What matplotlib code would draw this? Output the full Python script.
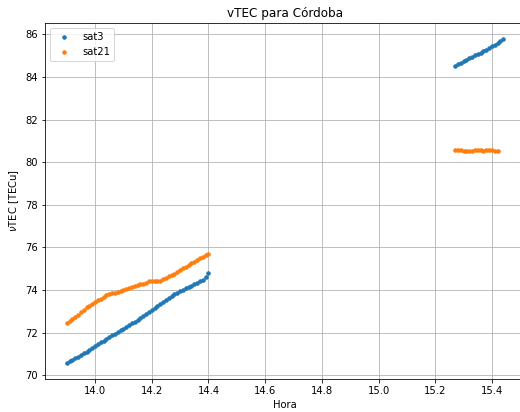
import matplotlib
matplotlib.use('Agg')
import matplotlib.pyplot as plt
import numpy as np

# hora (UT) y vTEC por satelite, dos pasadas cada uno
hora_sat3_a = np.round(np.arange(13.90, 14.405, 0.01), 2)
vtec_sat3_a = [70.58, 70.65, 70.72, 70.79, 70.87, 70.94, 71.02, 71.10, 71.19, 71.28,
               71.37, 71.45, 71.54, 71.62, 71.71, 71.79, 71.87, 71.95, 72.03, 72.11,
               72.19, 72.27, 72.35, 72.43, 72.51, 72.59, 72.68, 72.77, 72.86, 72.96,
               73.05, 73.15, 73.24, 73.34, 73.43, 73.52, 73.61, 73.70, 73.79, 73.88,
               73.96, 74.02, 74.08, 74.14, 74.20, 74.27, 74.33, 74.41, 74.49, 74.63,
               74.80]

hora_sat21_a = np.round(np.arange(13.90, 14.405, 0.01), 2)
vtec_sat21_a = [72.47, 72.55, 72.63, 72.72, 72.84, 72.97, 73.08, 73.18, 73.27, 73.36,
                73.44, 73.52, 73.60, 73.68, 73.75, 73.80, 73.84, 73.88, 73.92, 73.95,
                73.99, 74.04, 74.09, 74.14, 74.18, 74.22, 74.26, 74.30, 74.35, 74.40,
                74.43, 74.43, 74.41, 74.44, 74.51, 74.58, 74.64, 74.70, 74.77, 74.85,
                74.93, 75.01, 75.09, 75.17, 75.25, 75.32, 75.40, 75.48, 75.56, 75.63,
                75.71]

hora_sat3_b = np.round(np.arange(15.27, 15.445, 0.01), 2)
vtec_sat3_b = [84.53, 84.60, 84.67, 84.74, 84.81, 84.88, 84.95, 85.02, 85.08, 85.15,
               85.22, 85.29, 85.36, 85.44, 85.52, 85.60, 85.69, 85.78]

hora_sat21_b = np.round(np.arange(15.27, 15.425, 0.01), 2)
vtec_sat21_b = [80.58, 80.57, 80.56, 80.55, 80.55, 80.55, 80.55, 80.56, 80.56, 80.56,
                80.55, 80.56, 80.56, 80.56, 80.55, 80.55]

hora_sat3 = np.concatenate([hora_sat3_a, hora_sat3_b])
vtec_sat3 = np.concatenate([vtec_sat3_a, vtec_sat3_b])
hora_sat21 = np.concatenate([hora_sat21_a, hora_sat21_b])
vtec_sat21 = np.concatenate([vtec_sat21_a, vtec_sat21_b])

fig = plt.figure(figsize=(520 / 72, 412 / 72), dpi=72)
ax = fig.add_axes([45 / 520, 33 / 412, 480 / 520, 356 / 412])

ax.plot(hora_sat3, vtec_sat3, '.', ms=7, label='sat3')
ax.plot(hora_sat21, vtec_sat21, '.', ms=7, label='sat21')

ax.set_title('vTEC para Córdoba')
ax.set_xlabel('Hora')
ax.set_ylabel(r'$\nu$TEC [TECu]')
ax.grid(True)
ax.legend(loc='upper left')

fig.savefig('out.png', dpi=72)
